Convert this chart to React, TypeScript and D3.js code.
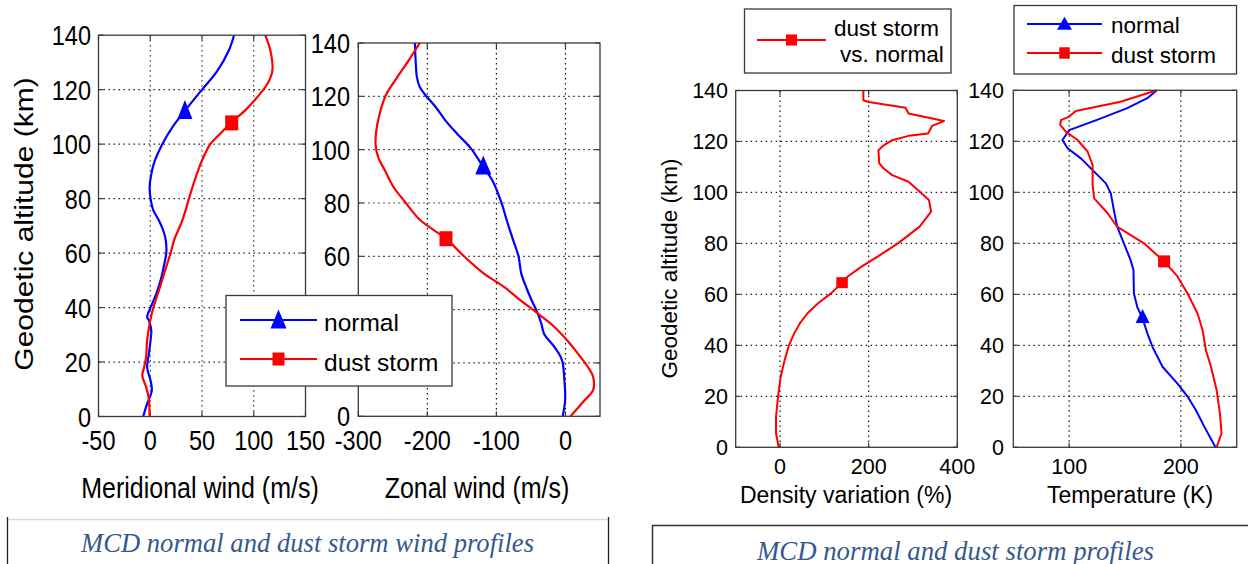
import React from 'react';
import * as d3 from 'd3';

// [altitude (km), value]
type Pt = [number, number];

const ALT_TICKS = [0, 20, 40, 60, 80, 100, 120, 140];
const MERID_TICKS = [-50, 0, 50, 100, 150];
const ZONAL_TICKS = [-300, -200, -100, 0];
const DENS_TICKS = [0, 200, 400];
const TEMP_TICKS = [100, 200];
// zonal-panel altitude labels that sit behind the wind legend
const ZONAL_COVERED_LABELS = [20, 40];

// Meridional wind (m/s)
const meridNormal: Pt[] = [
  [140, 81], [134.5, 76], [127, 65], [120, 50], [112.5, 34], [106, 21], [100, 11.6], [94, 4.5],
  [89, 1], [84, -0.6], [80, 0.3], [75.7, 3], [72, 8.4], [68.3, 12.6], [64.7, 15], [60, 15.5],
  [55, 13], [50, 10], [45, 5.8], [40, 0.3], [36.5, -3], [35.3, -1.3], [31.6, 1], [28, 0.3],
  [23, -1.3], [18, -3], [13.2, 0.3], [9.5, 1.5], [4.7, -3], [0, -6.8],
];
const meridDust: Pt[] = [
  [140, 111], [134.5, 116], [127, 118], [122, 113], [117.3, 103.5], [112.5, 92], [108.2, 79],
  [104, 68], [100, 58], [94, 50], [89, 45], [84, 40.6], [80, 37.4], [72, 31], [64.7, 23],
  [60, 19.7], [55, 15.5], [47.5, 9.4], [40, 3], [35.3, 0], [28, -3], [21.8, -4], [18, -6],
  [15, -7.7], [10.8, -4], [7.1, -1.6], [0, -0.6],
];

// Zonal wind (m/s)
const zonalNormal: Pt[] = [
  [140, -218], [133.5, -217], [127, -215], [123.5, -211], [120.5, -203], [116, -188], [111, -174],
  [106, -157], [100.5, -137], [93.5, -119], [88.5, -106], [80.3, -93], [73.5, -85], [67, -77],
  [60, -68], [53.5, -64], [48.5, -57], [43.5, -49], [38.5, -40], [34.8, -35], [31, -31], [26, -16],
  [22.3, -7], [20, -4], [13.5, -1.5], [6, -0.5], [0, -4],
];
const zonalDust: Pt[] = [
  [140, -211], [133.5, -227], [127, -244], [120.5, -260], [113.5, -269], [107, -274], [102, -275],
  [97, -271], [92, -261], [86, -249], [80.3, -232], [73.5, -210], [66.6, -173], [60, -147],
  [53.5, -118], [48.5, -89], [43.5, -65], [38.5, -40], [33.5, -16], [28.5, 2.4], [23.5, 18],
  [18.5, 32.5], [14.8, 40], [9.8, 40], [6, 27.7], [0, 7.3],
];

// Density variation, dust storm vs. normal (%)
const densityVar: Pt[] = [
  [140, 188], [136.2, 188], [135.5, 200], [133.2, 283], [131, 290], [128, 370], [126.1, 343],
  [123.1, 334], [122.2, 290], [120.5, 253], [118.5, 234], [116.6, 222], [111.4, 224], [109.4, 234],
  [106.8, 253], [104.2, 290], [97, 336], [92.5, 341], [86.6, 315], [80, 266], [74.8, 220],
  [70.8, 183], [66.9, 152], [64.6, 140], [60.4, 115], [56.5, 86], [52.6, 62], [48.7, 45],
  [44.7, 32], [40, 20], [34.3, 10.6], [27.7, 1.5], [19.9, -4.5], [12, -9], [5.5, -9], [0, -3],
];

// Temperature (K)
const tempNormal: Pt[] = [
  [140, 178.5], [136.9, 170], [133, 152], [128.4, 125], [124.4, 100], [120.5, 94], [117.3, 98.6],
  [113.3, 110.5], [108.7, 121], [103.5, 132.9], [99.6, 137.3], [92.4, 140.3], [86.5, 143], [80, 149],
  [73.4, 155], [69.5, 157.6], [60.3, 158], [55, 161], [50.5, 165.7], [44.7, 170], [39.4, 174.6],
  [31.6, 183.6], [25, 197], [19.9, 206], [14.6, 213.4], [8.1, 221], [0, 231],
];
const tempDust: Pt[] = [
  [140, 178.5], [135.5, 146], [131.9, 106], [129.7, 100], [128.3, 92.6], [126.4, 92], [123.8, 97],
  [120.5, 107.5], [116, 116.5], [110.7, 121], [102.9, 121], [97.6, 122.4], [91.8, 134.4], [86.5, 143],
  [80, 167], [72.9, 185], [67, 197], [60.3, 206], [52.5, 215], [46, 219.4], [38.1, 222.4],
  [31.6, 227], [22.5, 232], [13.3, 235], [5.5, 236.4], [0, 232],
];

// Single marker drawn on each profile
const meridMarkers: Pt[] = [[112.4, 33.5], [107.8, 78.7]];
const zonalMarkers: Pt[] = [[93.9, -119], [66.6, -173]];
const densityMarkers: Pt[] = [[64.6, 140]];
const tempMarkers: Pt[] = [[51.2, 165.7], [72.9, 185]];

const BLUE = '#0000ff';
const RED = '#ff0000';
const AXIS = '#3a3a3a';
const SANS = '"Liberation Sans", Arial, Helvetica, sans-serif';
const SERIF = '"Liberation Serif", "Times New Roman", serif';
const CAPTION = '#35598f';

type TxtProps = {
  x: number; y: number; size: number; sy?: number; rot?: number;
  anchor?: 'start' | 'middle' | 'end'; family?: string; italic?: boolean;
  fill?: string; len?: number; children: React.ReactNode;
};
function Txt({ x, y, size, sy = 1, rot = 0, anchor = 'start', family = SANS, italic = false, fill = '#000', len, children }: TxtProps) {
  return (
    <text
      transform={`translate(${x},${y}) scale(1,${sy})${rot ? ` rotate(${rot})` : ''}`}
      fontSize={size}
      fontFamily={family}
      fontStyle={italic ? 'italic' : 'normal'}
      textAnchor={anchor}
      fill={fill}
      textLength={len}
      lengthAdjust={len ? 'spacingAndGlyphs' : undefined}
    >
      {children}
    </text>
  );
}

type MarkerKind = 'tri' | 'sq';
function Marker({ kind, cx, cy, w, h, color }: { kind: MarkerKind; cx: number; cy: number; w: number; h: number; color: string }) {
  if (kind === 'sq') {
    return <rect x={cx - w / 2} y={cy - h / 2} width={w} height={h} fill={color} />;
  }
  const p = `M${cx},${cy - h * 0.55}L${cx + w / 2},${cy + h * 0.45}L${cx - w / 2},${cy + h * 0.45}Z`;
  return <path d={p} fill={color} />;
}

type Series = { data: Pt[]; color: string; marker: Pt; kind: MarkerKind; mw: number; mh: number };

type PanelProps = {
  left: number; right: number; top: number; bottom: number;
  xDomain: [number, number]; xTicks: number[];
  xTickBase: number; yTickRight: number; font: number; sy: number; tickLen: number;
  series: Series[]; curve: d3.CurveFactory; lineWidth: number;
  hiddenYLabels?: number[];
};

function Panel(p: PanelProps) {
  const x = d3.scaleLinear().domain(p.xDomain).range([p.left, p.right]);
  const y = d3.scaleLinear().domain([0, 140]).range([p.bottom, p.top]);
  const line = d3.line<Pt>().x(d => x(d[1])).y(d => y(d[0])).curve(p.curve);
  const innerX = p.xTicks.filter(t => t > p.xDomain[0] && t < p.xDomain[1]);
  const innerY = ALT_TICKS.filter(t => t > 0 && t < 140);
  const labelY = ALT_TICKS.filter(t => !(p.hiddenYLabels || []).includes(t));
  const capHalf = (0.716 * p.font * p.sy) / 2;
  return (
    <g>
      <rect x={p.left} y={p.top} width={p.right - p.left} height={p.bottom - p.top} fill="#fff" />
      <g stroke="#111" strokeWidth={1.2} strokeDasharray="1.4,3.6">
        {innerX.map(t => <line key={'gx' + t} x1={x(t)} x2={x(t)} y1={p.top} y2={p.bottom} />)}
        {innerY.map(t => <line key={'gy' + t} x1={p.left} x2={p.right} y1={y(t)} y2={y(t)} />)}
      </g>
      <g stroke={AXIS} strokeWidth={1.2}>
        {p.xTicks.map(t => (
          <g key={'tx' + t}>
            <line x1={x(t)} x2={x(t)} y1={p.bottom} y2={p.bottom - p.tickLen} />
            <line x1={x(t)} x2={x(t)} y1={p.top} y2={p.top + p.tickLen} />
          </g>
        ))}
        {ALT_TICKS.map(t => (
          <g key={'ty' + t}>
            <line x1={p.left} x2={p.left + p.tickLen} y1={y(t)} y2={y(t)} />
            <line x1={p.right} x2={p.right - p.tickLen} y1={y(t)} y2={y(t)} />
          </g>
        ))}
      </g>
      {p.series.map((s, i) => (
        <path key={'s' + i} d={line(s.data) || ''} fill="none" stroke={s.color} strokeWidth={p.lineWidth} strokeLinejoin="round" />
      ))}
      {p.series.map((s, i) => (
        <Marker key={'m' + i} kind={s.kind} cx={x(s.marker[1])} cy={y(s.marker[0])} w={s.mw} h={s.mh} color={s.color} />
      ))}
      <rect x={p.left} y={p.top} width={p.right - p.left} height={p.bottom - p.top} fill="none" stroke={AXIS} strokeWidth={1.3} />
      {p.xTicks.map(t => (
        <Txt key={'lx' + t} x={x(t)} y={p.xTickBase} size={p.font} sy={p.sy} anchor="middle">{String(t)}</Txt>
      ))}
      {labelY.map(t => (
        <Txt key={'ly' + t} x={p.yTickRight} y={y(t) + capHalf} size={p.font} sy={p.sy} anchor="end">{String(t)}</Txt>
      ))}
    </g>
  );
}

function LegendLine({ x1, x2, y, color, kind, mw, mh }: { x1: number; x2: number; y: number; color: string; kind: MarkerKind; mw: number; mh: number }) {
  return (
    <g>
      <line x1={x1} x2={x2} y1={y} y2={y} stroke={color} strokeWidth={2} />
      <Marker kind={kind} cx={(x1 + x2) / 2} cy={y} w={mw} h={mh} color={color} />
    </g>
  );
}

export default function App() {
  const windCurve = d3.curveCatmullRom.alpha(0.5);
  return (
    <svg width={1248} height={564} style={{ position: 'absolute', left: 0, top: 0, background: '#fff' }}>
      <rect x={0} y={0} width={1248} height={564} fill="#fff" />

      {/* Wind profiles */}
      <Panel
        left={98.5} right={305.5} top={35.2} bottom={416.5}
        xDomain={[-50, 150]} xTicks={MERID_TICKS}
        xTickBase={450} yTickRight={91} font={23.5} sy={1.19} tickLen={5}
        curve={windCurve} lineWidth={2.2}
        series={[
          { data: meridNormal, color: BLUE, marker: meridMarkers[0], kind: 'tri', mw: 15, mh: 19 },
          { data: meridDust, color: RED, marker: meridMarkers[1], kind: 'sq', mw: 13, mh: 15 },
        ]}
      />
      <Panel
        left={358.3} right={600} top={43} bottom={416.3}
        xDomain={[-300, 50]} xTicks={ZONAL_TICKS}
        xTickBase={450} yTickRight={350} font={23.5} sy={1.19} tickLen={5}
        curve={windCurve} lineWidth={2.2}
        hiddenYLabels={ZONAL_COVERED_LABELS}
        series={[
          { data: zonalNormal, color: BLUE, marker: zonalMarkers[0], kind: 'tri', mw: 16, mh: 19 },
          { data: zonalDust, color: RED, marker: zonalMarkers[1], kind: 'sq', mw: 13, mh: 15 },
        ]}
      />
      <Txt x={33} y={224} size={25} sy={1.2} rot={-90} anchor="middle">Geodetic altitude (km)</Txt>
      <Txt x={200} y={498} size={25} sy={1.2} anchor="middle">Meridional wind (m/s)</Txt>
      <Txt x={477} y={498} size={25} sy={1.2} anchor="middle">Zonal wind (m/s)</Txt>

      {/* Wind legend */}
      <g>
        <rect x={226} y={295.5} width={226} height={90.5} fill="#fff" stroke={AXIS} strokeWidth={1.3} />
        <LegendLine x1={240} x2={317} y={320} color={BLUE} kind="tri" mw={16} mh={19} />
        <LegendLine x1={240} x2={317} y={359} color={RED} kind="sq" mw={12} mh={13} />
        <Txt x={324} y={330.5} size={24.5}>normal</Txt>
        <Txt x={324} y={371} size={24.5}>dust storm</Txt>
      </g>

      {/* Density and temperature profiles */}
      <Panel
        left={735.7} right={957.3} top={90.5} bottom={447.3}
        xDomain={[-100, 400]} xTicks={DENS_TICKS}
        xTickBase={473.5} yTickRight={728} font={21.5} sy={1} tickLen={4.5}
        curve={d3.curveLinear} lineWidth={2}
        series={[
          { data: densityVar, color: RED, marker: densityMarkers[0], kind: 'sq', mw: 11.5, mh: 11 },
        ]}
      />
      <Panel
        left={1013.3} right={1236.7} top={90.3} bottom={447.3}
        xDomain={[50, 250]} xTicks={TEMP_TICKS}
        xTickBase={473.5} yTickRight={1004} font={21.5} sy={1} tickLen={4.5}
        curve={d3.curveLinear} lineWidth={2}
        series={[
          { data: tempNormal, color: BLUE, marker: tempMarkers[0], kind: 'tri', mw: 14, mh: 14 },
          { data: tempDust, color: RED, marker: tempMarkers[1], kind: 'sq', mw: 12, mh: 12 },
        ]}
      />
      <Txt x={677} y={268.5} size={22.5} rot={-90} anchor="middle">Geodetic altitude (km)</Txt>
      <Txt x={846} y={503} size={23} anchor="middle">Density variation (%)</Txt>
      <Txt x={1130} y={503} size={23} anchor="middle">Temperature (K)</Txt>

      {/* Density legend */}
      <g>
        <rect x={744.5} y={9} width={206.5} height={64} fill="#fff" stroke={AXIS} strokeWidth={1.3} />
        <LegendLine x1={757} x2={826} y={40} color={RED} kind="sq" mw={11} mh={11} />
        <Txt x={834} y={35.5} size={22.5}>dust storm</Txt>
        <Txt x={840} y={61.5} size={22.5}>vs. normal</Txt>
      </g>

      {/* Temperature legend */}
      <g>
        <rect x={1014} y={5.5} width={222.5} height={68.5} fill="#fff" stroke={AXIS} strokeWidth={1.3} />
        <LegendLine x1={1027} x2={1102} y={24} color={BLUE} kind="tri" mw={15} mh={13} />
        <LegendLine x1={1027} x2={1102} y={53} color={RED} kind="sq" mw={10.5} mh={11.5} />
        <Txt x={1111} y={33.3} size={22.5}>normal</Txt>
        <Txt x={1111} y={63.3} size={22.5}>dust storm</Txt>
      </g>

      {/* Figure captions */}
      <g>
        <line x1={7} x2={609} y1={519.5} y2={519.5} stroke="#d8d8d8" strokeWidth={1.3} />
        <line x1={7.5} x2={7.5} y1={517} y2={564} stroke="#222" strokeWidth={1.3} />
        <line x1={608.5} x2={608.5} y1={517} y2={564} stroke="#222" strokeWidth={1.3} />
        <Txt x={81} y={551.7} size={26.5} family={SERIF} italic fill={CAPTION} len={453}>MCD normal and dust storm wind profiles</Txt>
      </g>
      <g>
        <line x1={652} x2={1248} y1={525.5} y2={525.5} stroke="#333" strokeWidth={1.5} />
        <line x1={652.5} x2={652.5} y1={525} y2={564} stroke="#333" strokeWidth={1.5} />
        <Txt x={757} y={560} size={26.5} family={SERIF} italic fill={CAPTION} len={397}>MCD normal and dust storm profiles</Txt>
      </g>
    </svg>
  );
}
